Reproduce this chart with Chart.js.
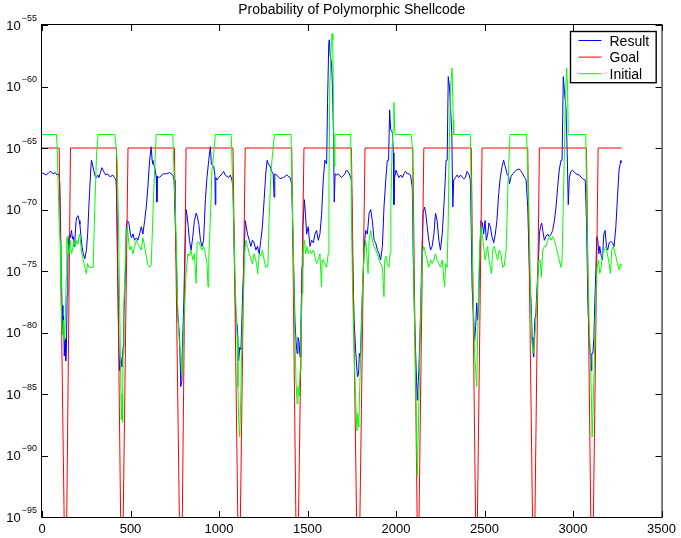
<!DOCTYPE html>
<html>
<head>
<meta charset="utf-8">
<script src="https://cdn.jsdelivr.net/npm/chart.js@4.4.0/dist/chart.umd.min.js"></script>
<style>
    html, body { margin: 0; padding: 0; background: #fff; }
</style>
</head>
<body>
<canvas id="chart" width="681" height="538"></canvas>
<script>
// ========================================
// PROBABILITY OF POLYMORPHIC SHELLCODE
// ========================================

const FONT = '"Liberation Sans", Arial, Helvetica, sans-serif';
const chartTitle = "Probability of Polymorphic Shellcode";

// Axis ticks
const xTicks = [0, 500, 1000, 1500, 2000, 2500, 3000, 3500];
const yTickExp = [-95, -90, -85, -80, -75, -70, -65, -60, -55];

// Series: [x, log10 of probability]
const resultLog = [
    [0,-67.0],[12,-67.1],[25,-67.2],[38,-67.0],[50,-66.9],[62,-67.1],[75,-67.0],[85,-67.2],[95,-67.1],[100,-67.8],
    [105,-71.5],[110,-75.5],[113,-77.8],[118,-80.0],[122,-78.7],[126,-81.9],[130,-80.5],[134,-82.3],[138,-81.2],[142,-77.0],
    [146,-74.1],[150,-72.5],[155,-72.0],[160,-72.3],[167,-71.7],[172,-72.4],[176,-72.2],[181,-73.0],[186,-72.4],[192,-71.0],
    [197,-70.6],[204,-70.5],[210,-70.9],[214,-71.2],[220,-72.2],[226,-73.0],[233,-73.6],[242,-74.0],[251,-73.3],[258,-72.0],
    [264,-70.0],[270,-68.3],[276,-66.6],[280,-66.0],[286,-66.4],[292,-66.8],[300,-67.3],[308,-67.4],[315,-67.2],[322,-67.4],
    [330,-67.0],[338,-66.6],[345,-66.8],[352,-67.0],[360,-67.2],[370,-67.1],[380,-67.3],[390,-67.3],[400,-67.2],[410,-67.4],[418,-67.6],
    [420,-68.2],[429,-76.3],[435,-81.7],[439,-83.1],[445,-82.0],[452,-82.8],[458,-81.2],[462,-79.0],[467,-76.8],[473,-74.1],
    [476,-71.4],[482,-70.9],[491,-71.1],[499,-72.0],[506,-72.3],[514,-72.0],[523,-72.5],[533,-72.3],[542,-72.5],[551,-72.0],
    [561,-71.4],[570,-72.0],[580,-70.9],[589,-69.8],[598,-68.2],[608,-66.0],[617,-64.9],[622,-66.0],[627,-66.3],[636,-66.5],
    [645,-67.3],[649,-69.4],[652,-67.3],[664,-67.4],[683,-67.1],[702,-67.1],[720,-67.0],[739,-67.2],[746,-67.6],
    [751,-70.0],[758,-73.6],[767,-78.5],[777,-80.3],[784,-84.4],[790,-84.0],[795,-80.4],[801,-77.6],[807,-73.6],[814,-70.0],
    [820,-70.5],[826,-71.4],[833,-72.5],[842,-73.3],[852,-72.2],[861,-70.9],[871,-70.3],[878,-70.6],[886,-71.2],[895,-72.5],
    [904,-73.0],[913,-72.5],[923,-69.2],[932,-67.4],[942,-66.0],[951,-64.9],[957,-66.3],[970,-66.5],[977,-67.2],[979,-69.6],
    [982,-67.4],[988,-67.6],[998,-67.4],[1017,-67.1],[1026,-66.9],[1035,-67.2],[1054,-67.4],[1064,-67.2],[1073,-67.6],
    [1079,-68.2],[1088,-75.0],[1096,-79.0],[1104,-79.5],[1111,-82.3],[1117,-81.2],[1124,-81.4],[1129,-79.0],[1135,-76.3],[1142,-73.6],
    [1148,-70.9],[1154,-71.4],[1161,-72.0],[1171,-72.5],[1180,-73.0],[1189,-72.5],[1198,-72.7],[1208,-73.3],[1217,-73.0],[1227,-73.6],
    [1236,-72.5],[1245,-71.4],[1255,-69.2],[1264,-67.1],[1272,-66.0],[1279,-66.3],[1289,-66.5],[1298,-66.9],[1306,-67.1],[1311,-69.0],
    [1315,-67.1],[1326,-67.2],[1345,-67.5],[1364,-67.4],[1383,-67.2],[1401,-67.4],[1411,-67.9],
    [1420,-73.6],[1429,-79.0],[1435,-80.7],[1441,-81.7],[1446,-80.4],[1452,-80.7],[1458,-82.0],[1463,-79.0],[1469,-74.7],[1474,-71.4],
    [1482,-69.2],[1488,-70.3],[1495,-72.0],[1504,-71.4],[1514,-73.0],[1523,-72.5],[1533,-72.7],[1542,-72.0],[1551,-71.7],[1561,-72.5],
    [1570,-72.0],[1579,-70.5],[1589,-67.6],[1598,-66.0],[1608,-66.3],[1613,-61.4],[1620,-56.5],[1623,-56.2],[1628,-57.5],[1636,-58.1],
    [1641,-60.0],[1647,-64.1],[1651,-69.4],[1656,-67.1],[1664,-67.2],[1673,-67.1],[1692,-67.4],[1711,-67.1],[1720,-66.8],[1729,-66.9],
    [1739,-67.2],[1748,-67.6],
    [1754,-73.6],[1763,-79.0],[1773,-81.7],[1782,-83.6],[1788,-83.4],[1793,-81.7],[1799,-82.0],[1805,-79.0],[1810,-76.8],[1816,-74.7],
    [1823,-72.5],[1829,-71.7],[1838,-72.0],[1848,-70.3],[1857,-70.0],[1866,-70.9],[1876,-72.5],[1885,-72.7],[1895,-73.3],[1904,-73.6],
    [1913,-74.1],[1923,-73.0],[1932,-69.8],[1942,-67.6],[1951,-66.0],[1958,-66.0],[1964,-61.9],[1970,-63.5],[1979,-63.7],[1985,-65.4],
    [1988,-69.6],[1992,-67.4],[2000,-66.8],[2007,-67.1],[2017,-67.4],[2026,-67.2],[2036,-67.4],[2045,-67.1],[2054,-66.9],[2064,-67.1],
    [2073,-67.1],[2082,-67.2],[2092,-68.2],
    [2097,-73.6],[2105,-79.0],[2111,-81.7],[2116,-84.0],[2120,-85.5],[2123,-84.8],[2129,-83.1],[2135,-80.4],[2140,-77.6],[2146,-73.6],
    [2153,-70.3],[2161,-69.8],[2168,-70.3],[2176,-71.4],[2185,-72.5],[2195,-73.3],[2204,-73.0],[2214,-72.0],[2223,-70.3],[2232,-70.9],
    [2242,-72.5],[2251,-73.3],[2261,-72.0],[2270,-69.8],[2276,-68.2],[2283,-66.0],[2289,-66.0],[2295,-59.2],[2302,-60.0],[2308,-61.7],
    [2315,-63.8],[2321,-69.8],[2326,-67.6],[2336,-67.4],[2345,-67.2],[2354,-67.4],[2364,-67.2],[2383,-67.5],[2392,-67.4],[2401,-66.9],
    [2411,-67.1],[2420,-67.6],[2426,-72.2],
    [2430,-76.3],[2439,-79.0],[2444,-80.7],[2450,-79.5],[2456,-77.6],[2461,-79.0],[2467,-77.6],[2473,-73.6],[2480,-70.9],[2488,-71.1],
    [2495,-72.0],[2503,-70.9],[2510,-72.5],[2518,-72.0],[2525,-71.1],[2533,-71.4],[2542,-72.2],[2552,-72.7],[2561,-72.0],[2570,-70.9],
    [2580,-68.7],[2589,-67.4],[2599,-66.5],[2608,-66.0],[2617,-66.5],[2627,-67.1],[2636,-67.3],[2641,-67.9],[2650,-67.3],[2660,-67.1],
    [2679,-66.8],[2695,-66.7],[2707,-66.9],[2716,-67.1],[2726,-67.4],[2735,-67.6],[2744,-69.8],
    [2754,-75.0],[2763,-77.6],[2769,-80.4],[2773,-81.4],[2778,-82.0],[2784,-79.0],[2790,-78.5],[2795,-76.8],[2801,-75.2],[2806,-73.6],
    [2810,-72.0],[2816,-71.4],[2823,-71.1],[2829,-71.7],[2838,-72.5],[2847,-72.2],[2857,-72.0],[2866,-72.2],[2876,-72.0],[2885,-71.7],
    [2895,-70.9],[2904,-69.8],[2913,-68.2],[2922,-66.8],[2932,-66.0],[2938,-66.0],[2945,-59.2],[2952,-60.5],[2960,-61.7],[2967,-65.4],
    [2973,-69.6],[2979,-67.4],[2988,-66.9],[2997,-66.8],[3016,-67.1],[3035,-67.2],[3054,-67.5],[3069,-67.6],
    [3076,-70.9],[3084,-77.6],[3091,-80.4],[3097,-81.7],[3103,-83.1],[3106,-81.7],[3112,-81.7],[3118,-80.4],[3123,-77.6],[3129,-75.0],
    [3134,-72.2],[3140,-72.5],[3146,-73.6],[3151,-73.0],[3157,-73.6],[3166,-74.1],[3174,-72.0],[3181,-71.7],[3189,-73.0],[3196,-73.3],
    [3204,-72.7],[3213,-72.6],[3223,-72.7],[3232,-73.0],[3242,-71.4],[3251,-69.0],[3260,-66.8],[3270,-66.0],[3275,-66.2]
];

// Goal drops to (effectively) zero in each gap; -96 sits below the axis
const goalLog = [
    [0,-65],[97,-65],[126,-96],[139,-96],[161,-65],
    [420,-65],[445,-96],[458,-96],[486,-65],
    [748,-65],[777,-96],[792,-96],[814,-65],
    [1079,-65],[1107,-96],[1120,-96],[1148,-65],
    [1411,-65],[1435,-96],[1448,-96],[1480,-65],
    [1748,-65],[1778,-96],[1795,-96],[1825,-65],
    [2095,-65],[2120,-96],[2129,-96],[2157,-65],
    [2425,-65],[2450,-96],[2459,-96],[2486,-65],
    [2744,-65],[2772,-96],[2784,-96],[2810,-65],
    [3076,-65],[3101,-96],[3114,-96],[3142,-65],[3275,-65]
];

const initialLog = [
    [0,-63.9],[82,-63.9],[87,-65.5],[92,-68.5],[97,-71.0],[103,-72.8],[107,-76.5],[112,-79.3],[117,-80.2],[121,-79.0],
    [125,-80.6],[129,-80.3],[133,-78.0],[137,-75.5],[140,-72.4],[143,-72.2],[148,-73.3],[153,-73.6],[160,-72.5],[167,-73.6],
    [172,-73.3],[180,-72.5],[188,-73.0],[195,-72.5],[203,-72.8],[210,-72.1],[214,-72.0],[220,-73.0],[226,-73.6],[233,-74.1],
    [242,-74.7],[251,-75.2],[257,-74.4],[264,-74.7],[275,-74.7],[289,-74.7],[298,-70.0],[308,-65.5],[317,-63.9],[411,-63.9],
    [416,-64.5],[425,-66.0],[432,-71.0],[438,-77.0],[444,-83.0],[448,-87.1],[452,-85.0],[455,-87.3],[458,-81.7],[463,-77.6],
    [469,-75.2],[476,-72.0],[482,-71.4],[488,-72.3],[495,-73.3],[504,-73.0],[514,-73.6],[523,-73.0],[533,-72.5],[542,-72.8],
    [551,-73.0],[561,-73.3],[570,-72.3],[580,-73.0],[589,-73.8],[598,-74.5],[608,-74.7],[617,-74.5],[630,-69.0],[645,-63.9],[739,-63.9],
    [748,-68.0],[758,-72.2],[767,-78.5],[777,-81.0],[786,-81.7],[792,-83.5],[797,-81.0],[805,-78.0],[814,-75.2],[824,-73.6],
    [833,-73.8],[842,-73.3],[852,-74.1],[861,-73.6],[871,-76.0],[876,-72.7],[885,-72.6],[895,-73.0],[904,-73.3],[913,-73.0],
    [923,-73.6],[932,-74.4],[938,-76.3],[942,-74.1],[951,-70.9],[960,-66.8],[970,-65.5],[979,-63.9],[1069,-63.9],
    [1083,-70.9],[1092,-76.3],[1102,-80.4],[1107,-84.4],[1111,-87.1],[1117,-88.5],[1122,-85.8],[1128,-81.7],[1133,-79.0],[1139,-76.8],
    [1145,-73.6],[1152,-72.5],[1161,-73.0],[1171,-73.6],[1180,-74.0],[1189,-74.4],[1198,-73.6],[1208,-74.1],[1219,-75.2],[1227,-73.6],
    [1236,-73.8],[1245,-73.3],[1255,-74.1],[1264,-74.7],[1276,-74.6],[1283,-70.9],[1294,-66.8],[1313,-63.9],[1407,-63.9],
    [1420,-73.6],[1429,-80.4],[1435,-84.0],[1441,-85.8],[1446,-84.4],[1452,-85.2],[1458,-83.1],[1463,-80.4],[1469,-76.8],[1474,-73.6],
    [1482,-72.5],[1489,-73.6],[1497,-73.0],[1504,-73.6],[1514,-73.3],[1523,-73.6],[1533,-73.3],[1542,-73.8],[1551,-74.4],[1561,-74.1],
    [1570,-73.6],[1579,-76.3],[1583,-74.1],[1589,-74.1],[1598,-74.4],[1608,-74.7],[1617,-73.6],[1621,-68.2],[1626,-60.0],[1632,-57.3],
    [1639,-55.7],[1643,-56.2],[1647,-62.7],[1651,-66.5],[1655,-63.9],[1744,-63.9],
    [1754,-76.3],[1763,-81.7],[1773,-85.8],[1779,-88.0],[1784,-86.6],[1790,-87.7],[1795,-84.4],[1801,-81.7],[1807,-78.5],[1812,-75.7],
    [1820,-73.6],[1829,-72.5],[1835,-73.6],[1842,-75.2],[1848,-72.5],[1857,-71.7],[1866,-72.5],[1876,-73.0],[1885,-73.3],[1895,-73.6],
    [1904,-74.1],[1913,-74.4],[1923,-74.7],[1932,-77.1],[1936,-74.1],[1943,-73.8],[1951,-74.4],[1960,-74.7],[1966,-73.6],[1971,-69.6],
    [1977,-65.4],[1983,-63.5],[1988,-61.3],[1994,-63.9],[2086,-63.9],
    [2092,-65.0],[2101,-76.3],[2111,-84.4],[2116,-88.0],[2120,-91.7],[2125,-88.5],[2131,-84.4],[2136,-80.4],[2142,-76.8],[2148,-73.6],
    [2157,-73.0],[2167,-73.6],[2176,-74.1],[2185,-74.7],[2195,-74.1],[2204,-74.4],[2214,-74.1],[2223,-73.6],[2232,-74.1],[2242,-74.4],
    [2251,-74.7],[2261,-74.1],[2274,-76.3],[2281,-74.4],[2289,-74.7],[2295,-70.9],[2300,-65.5],[2308,-60.0],[2317,-58.5],[2323,-62.7],
    [2326,-63.9],[2420,-63.9],
    [2424,-68.2],[2431,-73.6],[2439,-79.0],[2444,-81.7],[2450,-83.1],[2456,-84.4],[2461,-80.4],[2467,-76.3],[2473,-73.0],[2480,-71.4],
    [2488,-72.2],[2495,-73.0],[2503,-74.1],[2510,-73.6],[2518,-73.0],[2525,-74.1],[2533,-74.7],[2539,-75.2],[2546,-73.3],[2555,-73.0],
    [2565,-73.6],[2574,-74.1],[2583,-73.3],[2593,-73.6],[2602,-74.7],[2611,-74.6],[2622,-73.3],[2632,-68.2],[2644,-63.9],[2738,-63.9],
    [2744,-66.8],[2754,-72.2],[2761,-77.6],[2767,-80.4],[2773,-81.7],[2778,-81.4],[2784,-80.4],[2790,-79.0],[2795,-77.6],[2801,-75.5],
    [2806,-74.1],[2814,-74.1],[2821,-75.5],[2829,-73.3],[2838,-73.0],[2847,-73.0],[2857,-72.5],[2866,-72.2],[2876,-72.5],[2885,-72.2],
    [2895,-72.5],[2904,-73.0],[2913,-73.6],[2922,-74.1],[2932,-74.7],[2938,-74.1],[2945,-69.5],[2951,-65.5],[2956,-61.4],[2964,-58.5],
    [2969,-60.0],[2973,-63.9],[3072,-63.9],
    [3076,-68.2],[3084,-75.0],[3091,-79.0],[3097,-81.7],[3103,-84.9],[3108,-88.5],[3114,-85.8],[3119,-83.1],[3125,-79.0],[3131,-76.3],
    [3136,-74.7],[3144,-74.1],[3151,-75.2],[3159,-74.7],[3166,-73.6],[3176,-73.3],[3185,-73.0],[3194,-73.6],[3204,-74.4],[3211,-75.2],
    [3219,-73.3],[3226,-73.0],[3234,-73.3],[3242,-73.8],[3251,-74.4],[3260,-74.9],[3268,-74.4],[3275,-74.7]
];

// Turn [x, log10 p] pairs into chart points
function toPoints(series) {
    return series.map(p => ({ x: p[0], y: Math.pow(10, p[1]) }));
}

// Box, inward ticks, superscript y labels, title and legend
const matlabFrame = {
    id: "matlabFrame",
    afterDatasetsDraw(chart) {
        const { ctx, chartArea: a, scales } = chart;
        const xs = scales.x;
        const ys = scales.y;
        const tick = 6;

        ctx.save();
        ctx.strokeStyle = "#000";
        ctx.lineWidth = 1;
        ctx.strokeRect(a.left - 0.5, a.top - 0.5, a.right - a.left + 1, a.bottom - a.top + 1);

        ctx.beginPath();
        xs.ticks.forEach(t => {
            const px = Math.round(xs.getPixelForValue(t.value)) + 0.5;
            ctx.moveTo(px, a.bottom); ctx.lineTo(px, a.bottom - tick);
            ctx.moveTo(px, a.top); ctx.lineTo(px, a.top + tick);
        });
        ys.ticks.forEach(t => {
            const py = Math.round(ys.getPixelForValue(t.value)) + 0.5;
            ctx.moveTo(a.left, py); ctx.lineTo(a.left + tick, py);
            ctx.moveTo(a.right, py); ctx.lineTo(a.right - tick, py);
        });
        ctx.stroke();

        // y labels as 10 with a raised exponent
        ctx.fillStyle = "#000";
        ctx.textBaseline = "alphabetic";
        const rightEdge = a.left - 5;
        ys.ticks.forEach(t => {
            const py = ys.getPixelForValue(t.value);
            const exp = Math.round(Math.log10(t.value));
            const expText = (exp < 0 ? "\u2212" : "") + Math.abs(exp);
            ctx.font = "9px " + FONT;
            const ew = ctx.measureText(expText).width;
            ctx.textAlign = "left";
            ctx.fillText(expText, rightEdge - ew, py - 4.5);
            ctx.font = "13px " + FONT;
            ctx.textAlign = "right";
            ctx.fillText("10", rightEdge - ew - 1, py + 4.7);
        });

        // title
        ctx.font = "14px " + FONT;
        ctx.textAlign = "center";
        ctx.fillText(chartTitle, (a.left + a.right) / 2, 14);

        // legend box in the top right corner
        ctx.font = "14px " + FONT;
        const sets = chart.data.datasets;
        const maxW = Math.max(...sets.map(d => ctx.measureText(d.label).width));
        const boxW = 39 + maxW + 7;
        const rowH = 16.6;
        const boxH = rowH * (sets.length - 1) + 18;
        const bx = Math.round(a.right - 6 - boxW) + 0.5;
        const by = Math.round(a.top + 6) + 0.5;
        ctx.fillStyle = "#fff";
        ctx.fillRect(bx, by, boxW, boxH);
        ctx.lineWidth = 1.4;
        ctx.strokeStyle = "#000";
        ctx.strokeRect(bx, by, boxW, boxH);
        ctx.lineWidth = 1;
        ctx.textAlign = "left";
        sets.forEach((d, i) => {
            const ry = by + 9 + i * rowH;
            ctx.strokeStyle = d.borderColor;
            ctx.beginPath();
            ctx.moveTo(bx + 8, ry);
            ctx.lineTo(bx + 31, ry);
            ctx.stroke();
            ctx.fillStyle = "#000";
            ctx.fillText(d.label, bx + 39, ry + 5);
        });
        ctx.restore();
    }
};

window.addEventListener("load", () => {
    const ctx = document.getElementById("chart").getContext("2d");

    new Chart(ctx, {
        type: "line",
        data: {
            datasets: [
                { label: "Result", data: toPoints(resultLog), borderColor: "#0000ff", order: 3 },
                { label: "Goal", data: toPoints(goalLog), borderColor: "#ff0000", order: 2 },
                { label: "Initial", data: toPoints(initialLog), borderColor: "#00ff00", order: 1 }
            ]
        },
        options: {
            responsive: false,
            animation: false,
            parsing: false,
            layout: { padding: { top: 25, right: 17, left: 0, bottom: 0 } },
            elements: {
                line: { borderWidth: 1, tension: 0, fill: false },
                point: { radius: 0 }
            },
            plugins: {
                legend: { display: false },
                tooltip: { enabled: false },
                title: { display: false }
            },
            scales: {
                x: {
                    type: "linear",
                    min: xTicks[0],
                    max: xTicks[xTicks.length - 1],
                    afterBuildTicks: s => { s.ticks = xTicks.map(v => ({ value: v })); },
                    ticks: {
                        color: "#000",
                        font: { family: FONT, size: 13 },
                        padding: 5,
                        maxRotation: 0,
                        autoSkip: false,
                        callback: v => String(v)
                    },
                    grid: { display: false, drawTicks: false },
                    border: { display: false },
                    afterFit: s => { s.height = 21; }
                },
                y: {
                    type: "logarithmic",
                    min: Math.pow(10, yTickExp[0]),
                    max: Math.pow(10, yTickExp[yTickExp.length - 1]),
                    afterBuildTicks: s => { s.ticks = yTickExp.map(e => ({ value: Math.pow(10, e) })); },
                    ticks: { display: false },
                    grid: { display: false, drawTicks: false },
                    border: { display: false },
                    afterFit: s => { s.width = 42; }
                }
            }
        },
        plugins: [matlabFrame]
    });
});
</script>
</body>
</html>
